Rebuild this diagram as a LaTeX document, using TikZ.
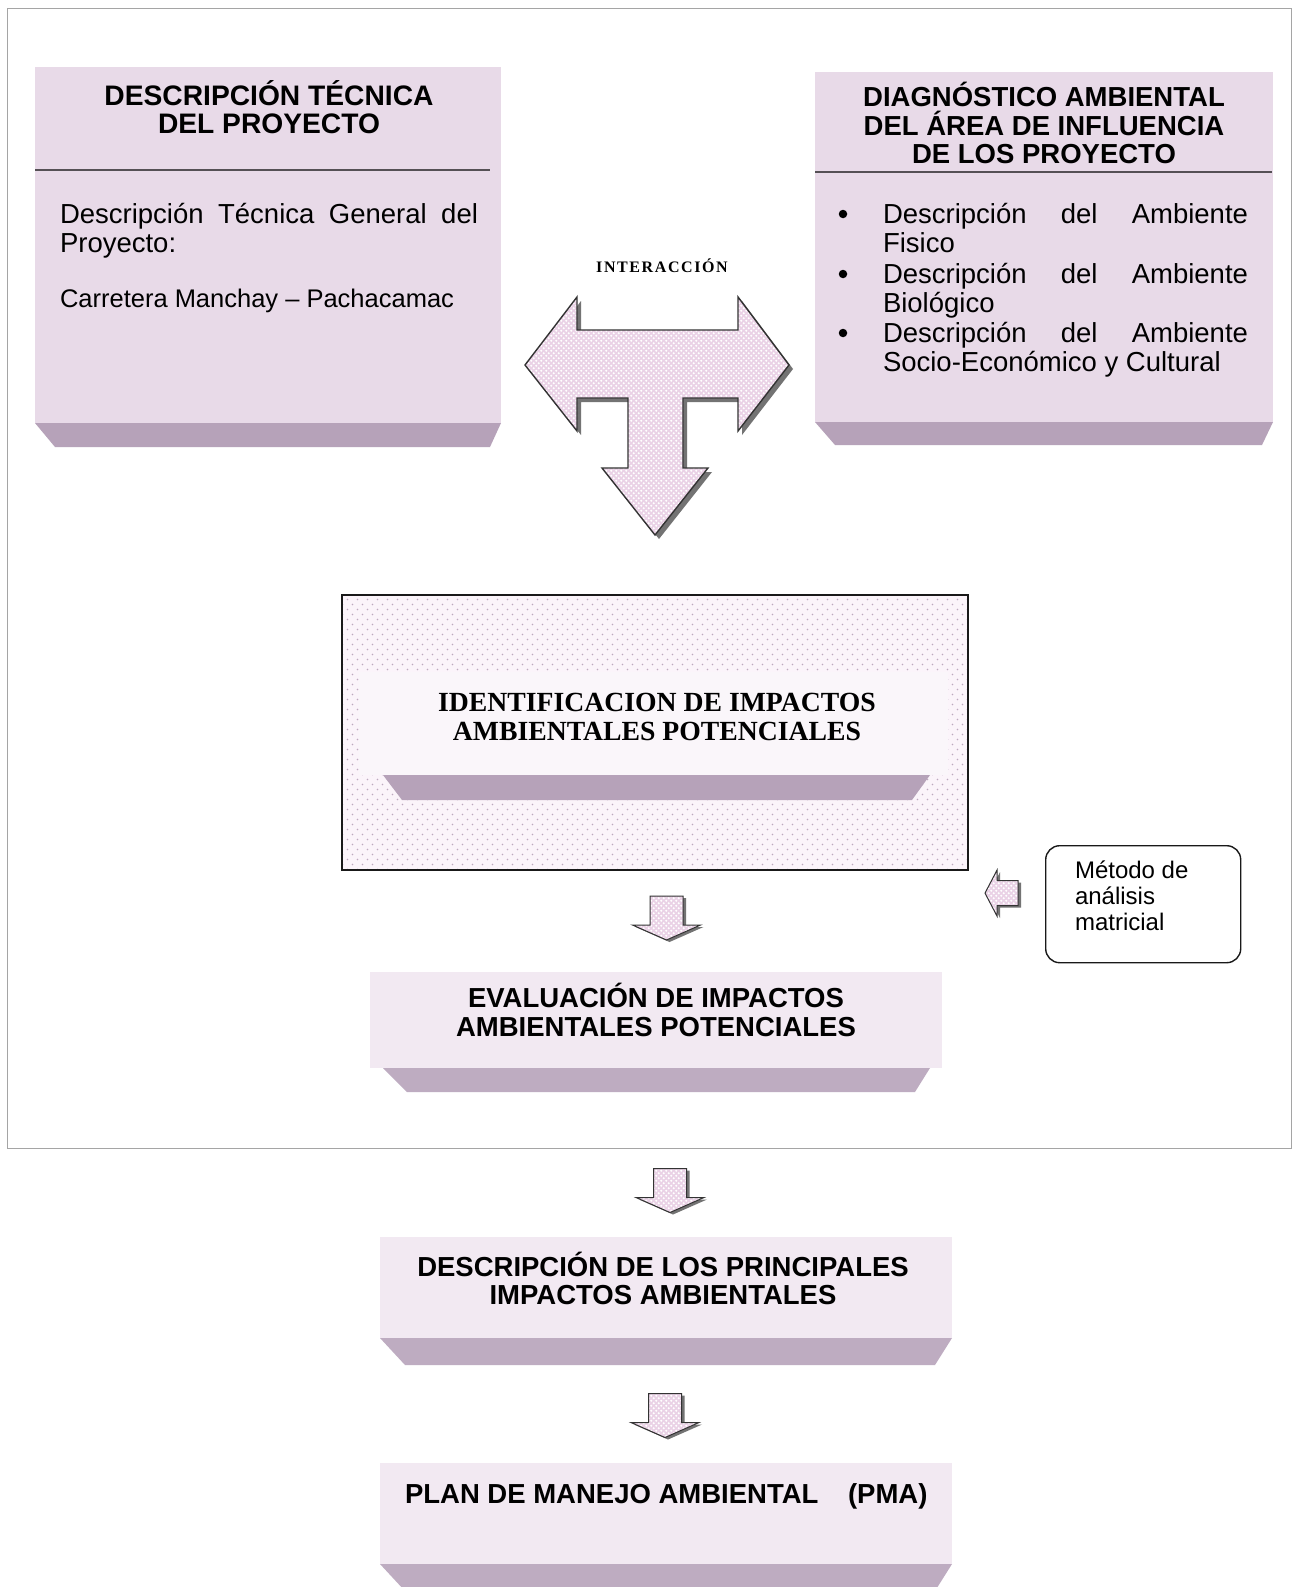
\documentclass[tikz,border=0pt]{standalone}
\usepackage{fontspec}
\setmainfont{Liberation Sans}
\newfontfamily\serifb{Liberation Serif}
\newfontfamily\serifspaced{Liberation Serif}[LetterSpace=10]
\usetikzlibrary{patterns,calc}

\definecolor{facepink}{RGB}{232,218,232}
\definecolor{bevelpink}{RGB}{182,162,185}
\definecolor{lightface}{RGB}{242,233,242}
\definecolor{lightbevel}{RGB}{190,172,193}
\definecolor{identbg}{RGB}{251,244,250}
\definecolor{identface}{RGB}{250,246,250}
\definecolor{arrowpink}{RGB}{234,210,230}
\definecolor{dotpink}{RGB}{190,168,190}
\definecolor{framegray}{RGB}{165,165,165}
\definecolor{sepgray}{RGB}{85,80,85}

\pgfdeclarepatternformonly{sparsedots}{\pgfpoint{-1pt}{-1pt}}{\pgfpoint{11pt}{11pt}}{\pgfpoint{10pt}{10pt}}{%
  \pgfpathcircle{\pgfpoint{2.5pt}{2.5pt}}{0.9pt}%
  \pgfpathcircle{\pgfpoint{7.5pt}{7.5pt}}{0.9pt}%
  \pgfusepath{fill}}
\pgfdeclarepatternformonly{finedots}{\pgfpoint{-1pt}{-1pt}}{\pgfpoint{6pt}{6pt}}{\pgfpoint{5pt}{5pt}}{%
  \pgfpathcircle{\pgfpoint{1.25pt}{1.25pt}}{1.1pt}%
  \pgfpathcircle{\pgfpoint{3.75pt}{3.75pt}}{1.1pt}%
  \pgfusepath{fill}}

\tikzset{
  face/.style={fill=facepink, draw=none, inner sep=0pt, outer sep=0pt},
  lface/.style={fill=lightface, draw=none, inner sep=0pt, outer sep=0pt},
  bevel/.style={fill=bevelpink},
  lbevel/.style={fill=lightbevel},
  sepline/.style={draw=sepgray, line width=1.4pt},
  txt/.style={inner sep=0pt, outer sep=0pt, text=black},
  titlefont/.style={txt, font=\bfseries\fontsize{27.5}{29}\selectfont},
  bodyfont/.style={txt, font=\fontsize{27.5}{29}\selectfont},
  bodysmall/.style={txt, font=\fontsize{25.5}{29}\selectfont},
  bulletfont/.style={txt, font=\fontsize{27.5}{29.5}\selectfont},
  smallfont/.style={txt, font=\fontsize{24}{26}\selectfont},
  serifttl/.style={txt, font=\serifb\bfseries\fontsize{27.7}{29}\selectfont},
  bulletdot/.style={circle, fill=black, inner sep=0pt, minimum size=8.5pt},
  arrowshadow/.style={fill=black!55},
  arrowbody/.style={preaction={fill=arrowpink},
    preaction={pattern=finedots, pattern color=white},
    draw=black!80, line width=1pt},
  blockdown/.pic={
    \fill[arrowshadow] (-13.5,-20) -- (19.5,-20) -- (19.5,9) -- (37,9) -- (3,24) -- (-31,9) -- (-13.5,9) -- cycle;
    \path[arrowbody] (-16.5,-22) -- (16.5,-22) -- (16.5,7) -- (34,7) -- (0,22) -- (-34,7) -- (-16.5,7) -- cycle;
  },
  blockleft/.pic={
    \fill[arrowshadow] (-13.5,2) -- (-1.5,-21) -- (-1.5,-10.5) -- (19.5,-10.5) -- (19.5,14.5) -- (-1.5,14.5) -- (-1.5,25) -- cycle;
    \path[arrowbody] (-16.5,0) -- (-4.5,-23) -- (-4.5,-12.5) -- (16.5,-12.5) -- (16.5,12.5) -- (-4.5,12.5) -- (-4.5,23) -- cycle;
  },
}

\begin{document}
\begin{tikzpicture}[x=1pt,y=-1pt]
\useasboundingbox (0,0) rectangle (1302,1587);
\fill[white] (0,0) rectangle (1302,1587);

% outer frame
\node[draw=framegray, line width=1.2pt, inner sep=0pt, minimum width=1284pt, minimum height=1140pt, anchor=north west] (frame) at (7,8) {};

% ---------- Box 1: descripcion tecnica ----------
\node[face, minimum width=466pt, minimum height=356pt, anchor=north west] (tecnica) at (35,67) {};
\fill[bevel] (tecnica.south west) -- (tecnica.south east) -- ++(-11,24) -- ($(tecnica.south west)+(20,24)$) -- cycle;
\draw[sepline] ($(tecnica.north west)+(0,103)$) -- ($(tecnica.north east)+(-11,103)$);
\node[titlefont, font=\bfseries\fontsize{28.2}{29}\selectfont, anchor=base] (tecT1) at (269,105) {DESCRIPCIÓN TÉCNICA};
\node[titlefont, font=\bfseries\fontsize{28.2}{29}\selectfont, anchor=base] (tecT2) at (269,133) {DEL PROYECTO};
\node[bodyfont, anchor=base west] (tecB1) at (60,223) {\makebox[418pt][s]{Descripción Técnica General del}};
\node[bodyfont, anchor=base west] (tecB2) at (60,252) {Proyecto:};
\node[bodysmall, anchor=base west] (tecB3) at (60,307) {Carretera Manchay – Pachacamac};

% ---------- Box 2: diagnostico ambiental ----------
\node[face, minimum width=458pt, minimum height=350pt, anchor=north west] (diag) at (815,72) {};
\fill[bevel] (diag.south west) -- (diag.south east) -- ++(-11,23) -- ($(diag.south west)+(20,23)$) -- cycle;
\draw[sepline] ($(diag.north west)+(0,100)$) -- ($(diag.north east)+(-1,100)$);
\node[titlefont, anchor=base] (diaT1) at (1044,106) {DIAGNÓSTICO AMBIENTAL};
\node[titlefont, anchor=base] (diaT2) at (1044,135) {DEL ÁREA DE INFLUENCIA};
\node[titlefont, anchor=base] (diaT3) at (1044,163) {DE LOS PROYECTO};
\node[bulletdot] (bul1) at (843,214) {};
\node[bulletdot] (bul2) at (843,274) {};
\node[bulletdot] (bul3) at (843,333) {};
\node[bulletfont, anchor=base west] (diaB1) at (883,223) {\makebox[365pt][s]{Descripción del Ambiente}};
\node[bulletfont, anchor=base west] (diaB2) at (883,252) {Fisico};
\node[bulletfont, anchor=base west] (diaB3) at (883,283) {\makebox[365pt][s]{Descripción del Ambiente}};
\node[bulletfont, anchor=base west] (diaB4) at (883,312) {Biológico};
\node[bulletfont, anchor=base west] (diaB5) at (883,342) {\makebox[365pt][s]{Descripción del Ambiente}};
\node[bulletfont, anchor=base west] (diaB6) at (883,371) {Socio-Económico y Cultural};

% ---------- interaccion T arrow ----------
\node[txt, anchor=base, font=\serifspaced\bfseries\fontsize{16}{17}\selectfont] (inter) at (662,272) {INTERACCIÓN};
\fill[arrowshadow, shift={(4,4)}] (525,365) -- (577,297) -- (577,330) -- (738,330) -- (738,297) -- (789,365) -- (738,431) -- (738,398) -- (683,398) -- (683,468) -- (708,468) -- (655,535) -- (602,468) -- (628,468) -- (628,398) -- (577,398) -- (577,431) -- cycle;
\path[arrowbody, line width=1.4pt] (525,365) -- (577,297) -- (577,330) -- (738,330) -- (738,297) -- (789,365) -- (738,431) -- (738,398) -- (683,398) -- (683,468) -- (708,468) -- (655,535) -- (602,468) -- (628,468) -- (628,398) -- (577,398) -- (577,431) -- cycle;

% ---------- identificacion ----------
\node[inner sep=0pt, outer sep=0pt, minimum width=626pt, minimum height=275pt, anchor=north west,
      preaction={fill=identbg}, preaction={pattern=sparsedots, pattern color=dotpink}] (ident) at (342,595) {};
\draw[black!90, line width=2pt] (ident.north west) rectangle (ident.south east);
\node[inner sep=0pt, outer sep=0pt, fill=identface, minimum width=589pt, minimum height=103pt, anchor=north west] (identin) at (359,672) {};
\fill[fill=bevelpink] ($(identin.south west)+(24,0)$) -- ($(identin.south east)+(-18,0)$) -- ++(-18,25) -- ($(identin.south west)+(43,25)$) -- cycle;
\node[serifttl, anchor=base] (idT1) at (657,711) {IDENTIFICACION DE IMPACTOS};
\node[serifttl, anchor=base] (idT2) at (657,740) {AMBIENTALES POTENCIALES};

% ---------- metodo ----------
\node[draw=black!90, line width=1.4pt, rounded corners=14pt, fill=white, inner sep=0pt, minimum width=195pt, minimum height=117pt, anchor=north west] (metodo) at (1045,845) {};
\node[smallfont, anchor=base west] (meT1) at (1075,878) {Método de};
\node[smallfont, anchor=base west] (meT2) at (1075,904) {análisis};
\node[smallfont, anchor=base west] (meT3) at (1075,930) {matricial};
\pic at ($(ident.south east)!0.5!(metodo.west)+(-5,6)$) {blockleft};

% ---------- evaluacion ----------
\node[lface, minimum width=572pt, minimum height=96pt, anchor=north west] (evalua) at (370,972) {};
\fill[lbevel] ($(evalua.south west)+(13,0)$) -- ($(evalua.south east)+(-12,0)$) -- ++(-15,24) -- ($(evalua.south west)+(37,24)$) -- cycle;
\node[titlefont, anchor=base] (evT1) at (656,1007) {EVALUACIÓN DE IMPACTOS};
\node[titlefont, anchor=base] (evT2) at (656,1036) {AMBIENTALES POTENCIALES};
\pic at ($(ident.south)!0.5!(evalua.north)+(11,-3)$) {blockdown};

% ---------- descripcion principales ----------
\node[lface, minimum width=572pt, minimum height=101pt, anchor=north west] (princ) at (380,1237) {};
\fill[lbevel] (princ.south west) -- (princ.south east) -- ++(-17,27) -- ($(princ.south west)+(25,27)$) -- cycle;
\node[titlefont, anchor=base] (prT1) at (663,1276) {DESCRIPCIÓN DE LOS PRINCIPALES};
\node[titlefont, anchor=base] (prT2) at (663,1304) {IMPACTOS AMBIENTALES};
\pic at ($(evalua.south)!0.5!(princ.north)+(9,38)$) {blockdown};

% ---------- plan de manejo ----------
\node[lface, minimum width=572pt, minimum height=101pt, anchor=north west] (plan) at (380,1463) {};
\fill[lbevel] (plan.south west) -- (plan.south east) -- ++(-17,27) -- ($(plan.south west)+(25,27)$) -- cycle;
\node[titlefont, anchor=base west] (plT1) at (405,1503) {PLAN DE MANEJO AMBIENTAL};
\node[titlefont, anchor=base west] (plT2) at (848,1503) {(PMA)};
\pic at ($(princ.south)!0.5!(plan.north)+(-1,15)$) {blockdown};

\end{tikzpicture}
\end{document}
